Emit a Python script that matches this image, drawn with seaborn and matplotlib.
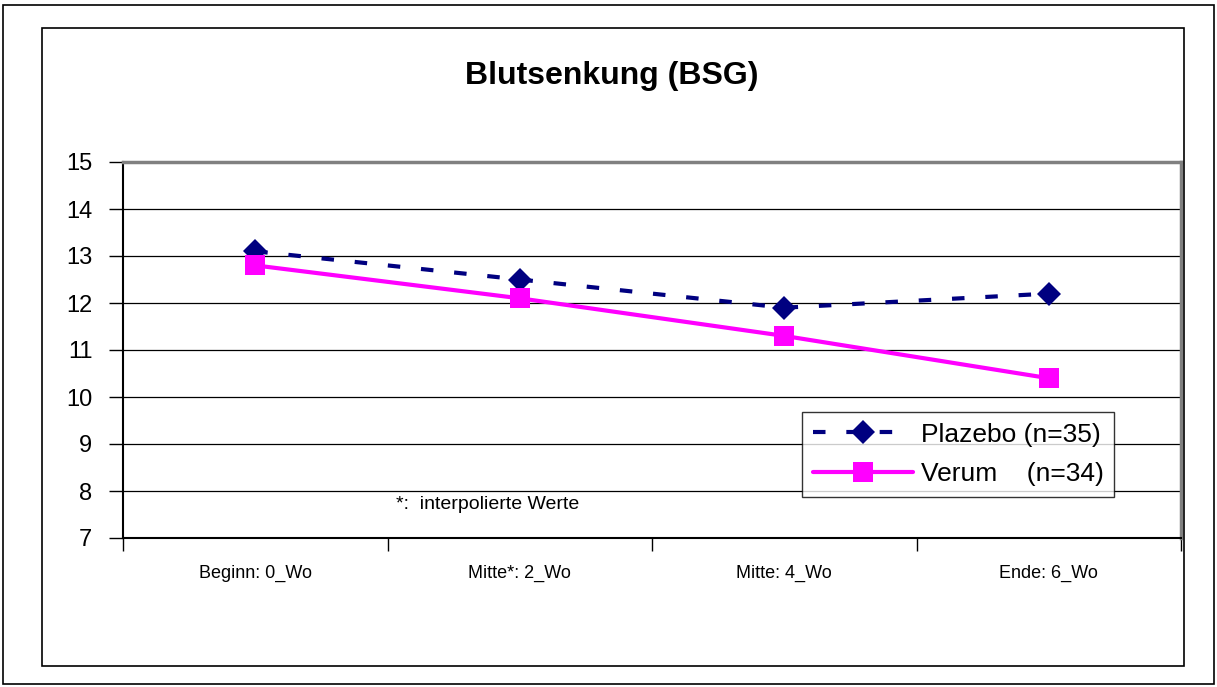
import matplotlib
matplotlib.use("Agg")
import matplotlib.pyplot as plt
import seaborn as sns
import pandas as pd
from matplotlib.patches import Rectangle
from matplotlib.ticker import FixedLocator, NullFormatter

categories = ["Beginn: 0_Wo", "Mitte*: 2_Wo", "Mitte: 4_Wo", "Ende: 6_Wo"]
plazebo = [13.1, 12.5, 11.9, 12.2]
verum = [12.8, 12.1, 11.3, 10.4]
series_names = ["Plazebo (n=35)", "Verum    (n=34)"]
yticks = [7, 8, 9, 10, 11, 12, 13, 14, 15]

sns.set_theme(style="white")
plt.rcParams['font.family'] = ['Liberation Sans', 'DejaVu Sans']
plt.rcParams['text.color'] = 'black'
plt.rcParams['xtick.color'] = 'black'
plt.rcParams['ytick.color'] = 'black'

df = pd.DataFrame({
    "x": list(range(len(categories))) * 2,
    "value": plazebo + verum,
    "series": [series_names[0]] * len(plazebo) + [series_names[1]] * len(verum),
})

W, H = 1217, 687
fig = plt.figure(figsize=(W / 100, H / 100), dpi=100)
fig.patch.set_facecolor("white")

# outer and inner frames
fig.patches.append(Rectangle((3 / W, 1 - 684 / H), 1211 / W, 679 / H, transform=fig.transFigure,
                             fill=False, edgecolor="black", linewidth=1.2))
fig.patches.append(Rectangle((42 / W, 1 - 666 / H), 1142 / W, 638 / H, transform=fig.transFigure,
                             fill=False, edgecolor="black", linewidth=1.2))

ax = fig.add_axes([123 / W, 1 - 538 / H, (1181 - 123) / W, (538 - 162) / H])

pal = {series_names[0]: "#000080", series_names[1]: "#FF00FF"}
sns.lineplot(data=df, x="x", y="value", hue="series", style="series", palette=pal,
             markers={series_names[0]: "D", series_names[1]: "s"},
             dashes={series_names[0]: (3, 5), series_names[1]: ""},
             markersize=13, linewidth=3, markeredgewidth=0, ax=ax, legend=True)
for ln in ax.lines:
    ln.set_dash_capstyle("butt")
    if ln.get_marker() == "s":
        ln.set_markersize(15)
    else:
        ln.set_markersize(12)

ax.set_xlim(-0.5, len(categories) - 0.5)
ax.set_ylim(7, 15)
ax.set_yticks(yticks)
ax.set_yticklabels([str(v) for v in yticks], fontsize=17)
ax.yaxis.grid(True, color="black", linewidth=0.9)
ax.set_axisbelow(True)

ax.xaxis.set_major_locator(FixedLocator([i - 0.5 for i in range(len(categories) + 1)]))
ax.xaxis.set_major_formatter(NullFormatter())
ax.xaxis.set_minor_locator(FixedLocator(list(range(len(categories)))))
ax.set_xticklabels(categories, minor=True, fontsize=13)
ax.tick_params(axis="x", which="minor", length=0, pad=19)
ax.tick_params(axis="x", which="major", direction="out", length=9, width=1, color="black", bottom=True)
ax.tick_params(axis="y", direction="out", length=10, width=1, color="black", left=True, pad=12)
ax.set_xlabel("")
ax.set_ylabel("")

for side in ["left", "bottom"]:
    ax.spines[side].set_color("black")
    ax.spines[side].set_linewidth(1.5)
for side in ["top", "right"]:
    ax.spines[side].set_color("#808080")
    ax.spines[side].set_linewidth(2.5)

fig.text(612 / W, 1 - 76 / H, "Blutsenkung (BSG)", ha="center", va="center",
         fontsize=23, fontweight="bold", color="black")
ax.text(0.258, 0.09, "*:  interpolierte Werte", transform=ax.transAxes, fontsize=14,
        ha="left", va="center", color="black")

handles, labels = ax.get_legend_handles_labels()
leg = ax.legend(handles=handles, labels=labels, loc="upper left",
                bbox_to_anchor=(802 / W, 1 - 412 / H), bbox_transform=fig.transFigure,
                frameon=True, fancybox=False, edgecolor="black", fontsize=19,
                handlelength=3.8, borderpad=0.4, labelspacing=0.6, handletextpad=0.3,
                borderaxespad=0)
leg.get_frame().set_linewidth(1.0)
for t in leg.get_texts():
    t.set_color("black")

fig.savefig("out.png", dpi=100, facecolor="white")
